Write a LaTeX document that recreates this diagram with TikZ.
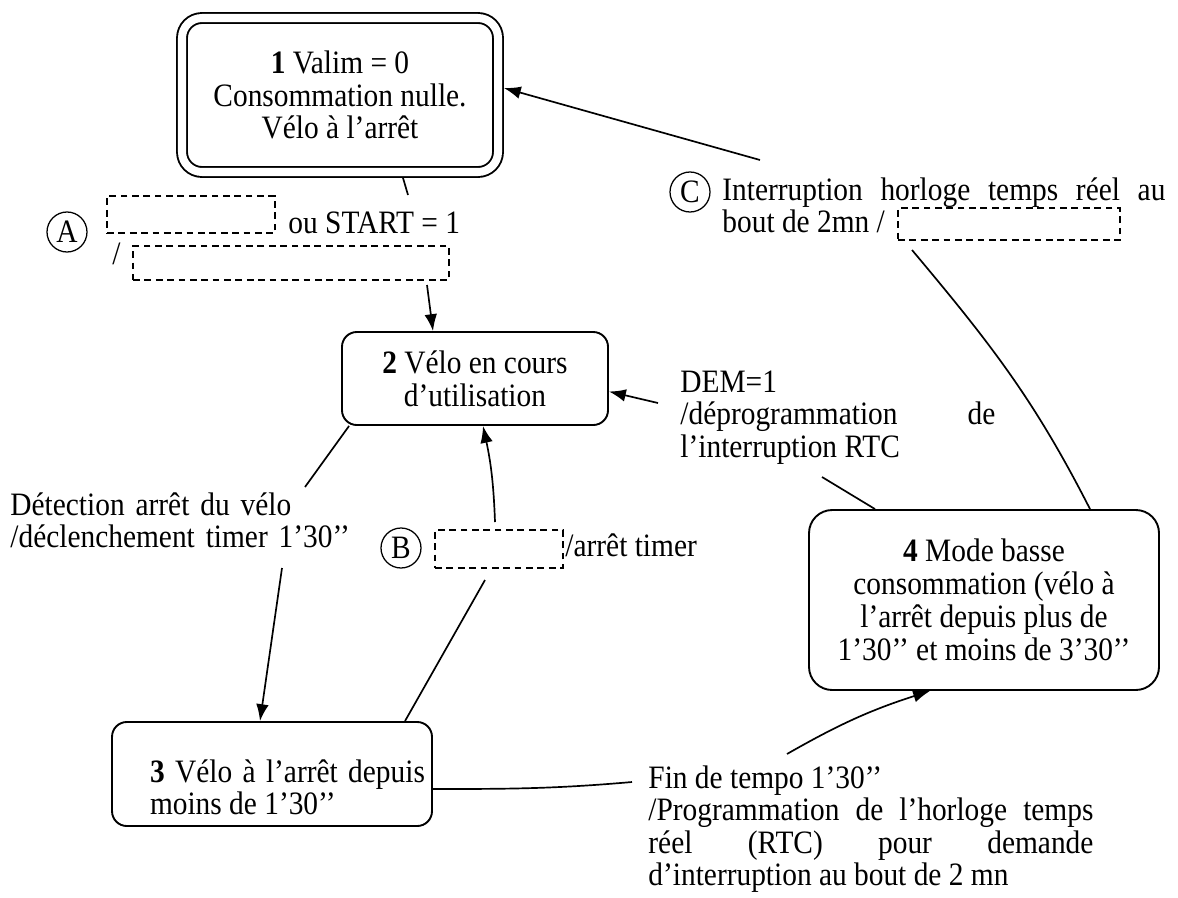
\documentclass[tikz,border=0pt]{standalone}
\usepackage{fontspec}
\setmainfont{Liberation Serif}[FakeStretch=0.9]
\usepackage{tikz}
\usetikzlibrary{positioning, arrows.meta}

\hyphenpenalty=10000
\tolerance=9999
\hbadness=10000

\def\pu{0.4746pt}
\tikzstyle{statebox} = [draw, line width=0.9pt, rounded corners=7pt, align=center, inner sep=0pt]
\tikzstyle{dashbox} = [draw, line width=0.7pt, dash pattern=on 3.2pt off 2.2pt, inner sep=0pt]
\tikzstyle{tag} = [draw, circle, line width=0.6pt, inner sep=0pt, minimum size=40*\pu]
\tikzstyle{note} = [inner sep=0pt, align=justify]
\tikzstyle{link} = [line width=0.8pt]
\tikzstyle{arrow} = [link, -{Latex[length=8pt, width=6pt]}]

\begin{document}
\begin{tikzpicture}[x=\pu, y=-\pu, font=\fontsize{15.5}{15.5}\selectfont]
  \useasboundingbox (0,0) rectangle (1178,897);

  % states
  \node[statebox, double, double distance=3.8pt, outer sep=2.8pt, rounded corners=9.5pt,
        minimum width=316*\pu, minimum height=154*\pu] (s1) at (340,95)
        {\textbf{1} Valim = 0\\Consommation nulle.\\Vélo à l’arrêt};
  \node[statebox, minimum width=266*\pu, minimum height=93*\pu] (s2) at (475,378.5)
        {\textbf{2} Vélo en cours\\d’utilisation};
  \node[statebox, inner xsep=7*\pu, inner ysep=16*\pu,
        text height=44*\pu, text depth=28*\pu] (s3) at (272,774)
        {\hspace*{14.7pt}\parbox[t]{130.5pt}{\textbf{3} Vélo à l’arrêt depuis moins de 1’30’’}};
  \node[statebox, rounded corners=11pt, minimum width=350*\pu, minimum height=180*\pu,
        font=\fontsize{15.5}{15.7}\selectfont] (s4) at (984,600)
        {\textbf{4} Mode basse\\consommation (vélo à\\l’arrêt depuis plus de\\1’30’’ et moins de 3’30’’};

  % transition A
  \node[tag] (cA) at (67,232) {A};
  \node[dashbox, minimum width=168*\pu, minimum height=37*\pu] (dA1) at (191,214.5) {};
  \node[anchor=base west, inner sep=0pt] (tA1) at (288,233) {ou START = 1};
  \node[anchor=base west, inner sep=0pt] (tA2) at (112,264) {/};
  \node[dashbox, minimum width=316*\pu, minimum height=34*\pu] (dA2) at (291,263) {};

  % transition B
  \node[tag] (cB) at (401,548) {B};
  \node[dashbox, minimum width=128*\pu, minimum height=38*\pu] (dB) at (499,549) {};
  \node[anchor=base west, inner sep=0pt] (tB) at (565,556) {/arrêt timer};

  % transition C
  \node[tag] (cC) at (690,192) {C};
  \node[note, text width=443*\pu, anchor=base west] (tC) at (722,200)
        {Interruption horloge temps réel au\linebreak bout de 2mn /};
  \node[dashbox, minimum width=222*\pu, minimum height=32*\pu] (dC) at (1009,224) {};

  % other transitions
  \node[note, text width=340*\pu, align=left, anchor=base west] (tDet) at (10,515)
        {Détection arrêt du vélo\\/déclenchement timer 1’30’’};
  \node[note, text width=315*\pu, anchor=base west] (tDem) at (680,392)
        {DEM=1\\/déprogrammation de\linebreak l’interruption RTC};
  \node[note, text width=445*\pu, anchor=base west] (tFin) at (648,788)
        {Fin de tempo 1’30’’\\/Programmation de l’horloge temps\linebreak réel (RTC) pour demande\linebreak d’interruption au bout de 2 mn};

  % free ends of the connectors
  \coordinate (aTop) at (408,195);
  \coordinate (aBot) at (427,285);
  \coordinate (dTop) at (305,487);
  \coordinate (dBot) at (282,568);
  \coordinate (bLow) at (485,580);
  \coordinate (bTop) at (495,522);
  \coordinate (demTail) at (658,403);
  \coordinate (demBot) at (822,477);
  \coordinate (finW) at (632,782);
  \coordinate (finTop) at (787,754);
  \coordinate (cBot) at (912,250);
  \coordinate (cTop) at (760,160);

  \draw[link] ([xshift=63*\pu]s1.south) -- (aTop);
  \draw[arrow] (aBot) -- ([xshift=-42*\pu]s2.north);
  \draw[link] ([xshift=8*\pu]s2.south west) -- (dTop);
  \draw[arrow] (dBot) -- ([xshift=-12*\pu]s3.north);
  \draw[link] ([xshift=133*\pu]s3.north) -- (bLow);
  \draw[arrow] (bTop) to[bend right=5] ([xshift=8*\pu]s2.south);
  \draw[arrow] (demTail) -- ([yshift=-13*\pu]s2.east);
  \draw[link] (demBot) -- ([xshift=-109*\pu]s4.north);
  \draw[link] ([yshift=-15*\pu]s3.east) to[out=0, in=185] (finW);
  \draw[arrow] (finTop) to[bend left=6] ([xshift=-54*\pu]s4.south);
  \draw[link] ([xshift=106*\pu]s4.north) to[out=117, in=-50] (cBot);
  \draw[arrow] (cTop) -- ([yshift=7*\pu]s1.east);
\end{tikzpicture}
\end{document}
